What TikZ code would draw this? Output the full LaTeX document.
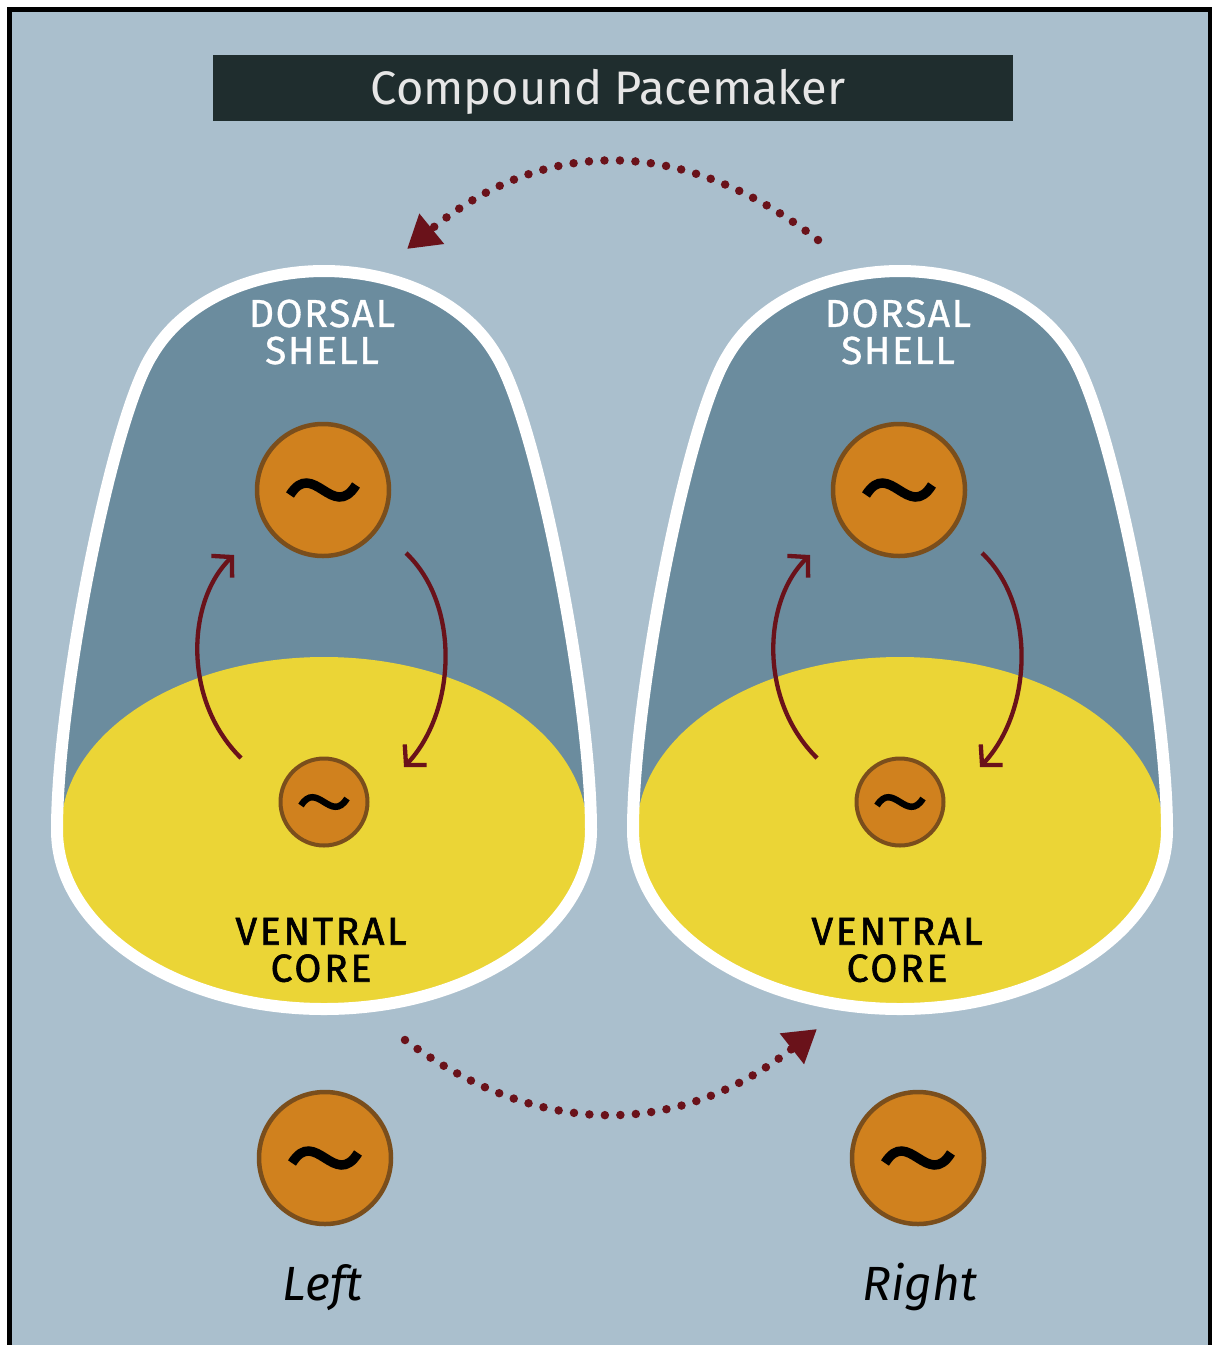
\documentclass[tikz,border=0pt]{standalone}
\usepackage{fontspec}
\setmainfont{Fira Sans}
\newfontfamily\shellfont[LetterSpace=4, FakeBold=0.8]{Fira Sans}
\newfontfamily\corefont[LetterSpace=7, FakeBold=1.6]{Fira Sans}
\usetikzlibrary{arrows.meta}

\definecolor{bgblue}{HTML}{AABFCD}
\definecolor{shellblue}{HTML}{6B8C9E}
\definecolor{coreyellow}{HTML}{EBD536}
\definecolor{oscorange}{HTML}{D0811E}
\definecolor{oscrim}{HTML}{7A4E1C}
\definecolor{titlebar}{HTML}{1F2D2E}
\definecolor{titletext}{HTML}{E6E6E6}
\definecolor{couple}{HTML}{6A121A}

% outline of one nucleus, centred on x = 0
\def\shellpath{(-267,830) .. controls (-267,700) and (-213,420) .. (-172,355)
  .. controls (-138,297) and (-65,271) .. (0,271)
  .. controls (65,271) and (138,297) .. (172,355)
  .. controls (213,420) and (267,700) .. (267,830)
  .. controls (267,929) and (147.5,1009) .. (0,1009)
  .. controls (-147.5,1009) and (-267,929) .. (-267,830) -- cycle}

\tikzset{
  osc/.style={circle, fill=oscorange, draw=oscrim, line width=4.5pt,
    minimum size=132pt, inner sep=0pt},
  oscsmall/.style={osc, minimum size=87pt, line width=4pt},
  outline/.style={draw=white, line width=12pt},
  cyclearrow/.style={draw=couple, line width=4.3pt,
    -{Straight Barb[length=14pt,width=30pt]}},
  coupling/.style={draw=couple, line width=8.5pt, line cap=round,
    dash pattern=on 0pt off 15.5pt,
    -{Triangle[length=32pt,width=37pt,line cap=butt,line join=miter]}},
  shelltext/.style={text=white, font=\shellfont\fontsize{39}{37}\selectfont, align=center},
  coretext/.style={text=black, font=\corefont\fontsize{39}{37}\selectfont, align=center},
  sidetext/.style={text=black, font=\itshape\fontsize{48}{50}\selectfont, anchor=base},
  bigtilde/.pic={\draw[line width=9.5pt, line cap=butt]
    (-33,5) .. controls (-10,-32) and (10,32) .. (33,-5);},
  smalltilde/.pic={\draw[line width=6.5pt, line cap=butt]
    (-23,3.5) .. controls (-7,-22) and (7,22) .. (23,-3.5);},
}

% one nucleus: #1 = name prefix, #2 = x position of its axis
\newcommand\nucleusat[2]{%
  \begin{scope}[shift={(#2,0)}]
    \fill[shellblue] \shellpath;
    \begin{scope}
      \clip \shellpath;
      \fill[coreyellow] (-263,830) .. controls (-263,734.5) and (-145.3,657) .. (0,657)
        .. controls (145.3,657) and (263,734.5) .. (263,830)
        -- (290,830) -- (290,1030) -- (-290,1030) -- (-290,830) -- cycle;
    \end{scope}
    \draw[outline] \shellpath;
    \node[shelltext] (#1shell) at (-2,332) {DORSAL\\SHELL};
    \node[coretext] (#1core) at (-3,950) {VENTRAL\\CORE};
    \node[osc] (#1top) at (-1,490) {};
    \pic at (#1top) {bigtilde};
    \node[oscsmall] (#1mid) at (0,802) {};
    \pic at (#1mid) {smalltilde};
    \coordinate (#1upS) at (-83,758);
    \coordinate (#1upE) at (-90,555);
    \coordinate (#1dnS) at (82,553);
    \coordinate (#1dnE) at (80,767);
    \draw[cyclearrow] (#1upS) .. controls (-142,700) and (-137,600) .. (#1upE);
    \draw[cyclearrow] (#1dnS) .. controls (137,605) and (132,712) .. (#1dnE);
  \end{scope}}

\begin{document}
\begin{tikzpicture}[x=1pt, y=-1pt]
  \useasboundingbox (0,0) rectangle (1212,1345);
  \fill[white] (0,0) rectangle (1212,1345);
  \fill[bgblue] (12,12) rectangle (1208,1345);
  \draw[black, line width=5pt] (9.5,1360) -- (9.5,9.5) -- (1210,9.5) -- (1210,1360);

  % title bar
  \fill[titlebar] (213,55) rectangle (1013,121);
  \node[text=titletext, font=\fontsize{47}{50}\selectfont, anchor=base]
    (title) at (608,104) {Compound Pacemaker};

  % the two nuclei
  \nucleusat{l}{324}
  \nucleusat{r}{900}

  % extra-nuclear oscillators
  \node[osc] (lout) at (325,1158) {};
  \pic at (lout) {bigtilde};
  \node[osc] (rout) at (918,1158) {};
  \pic at (rout) {bigtilde};
  \node[sidetext] (lname) at (323,1300) {Left};
  \node[sidetext] (rname) at (920,1300) {Right};

  % coupling between the two sides
  \coordinate (rshellTop) at (818,240);
  \coordinate (lshellTop) at (407,249);
  \coordinate (lcoreBot) at (405,1040);
  \coordinate (rcoreBot) at (817,1029);
  \draw[coupling] (rshellTop) .. controls (681,134) and (544,137) .. (lshellTop);
  \draw[coupling] (lcoreBot) .. controls (542,1141) and (680,1137) .. (rcoreBot);
\end{tikzpicture}
\end{document}
